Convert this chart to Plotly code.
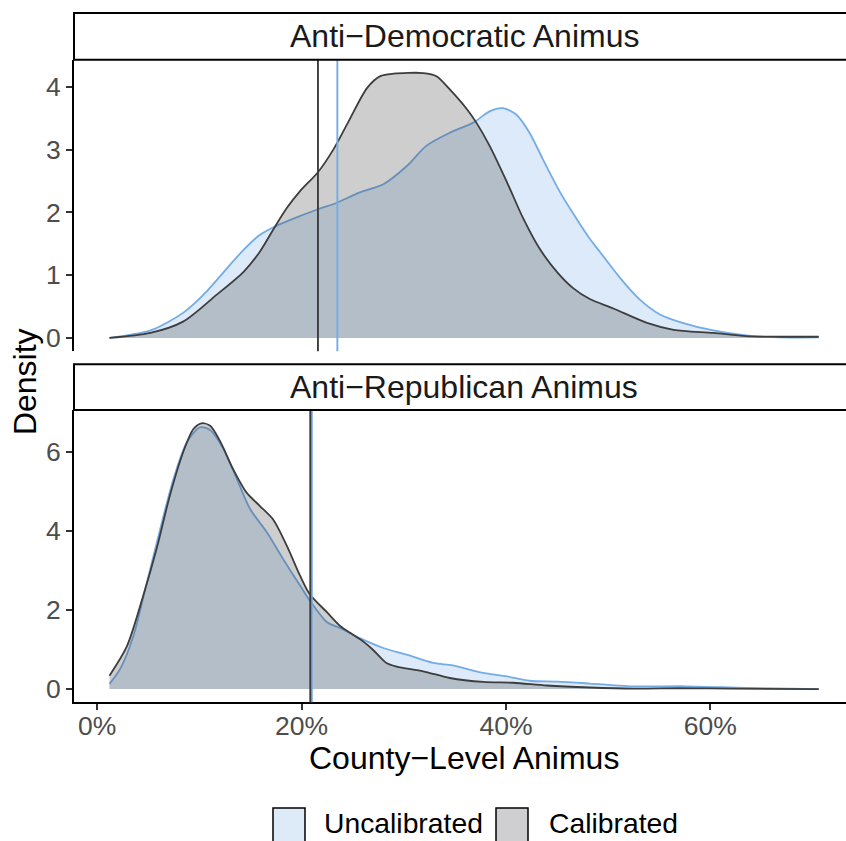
import plotly.graph_objects as go

# ---- density estimates of county-level animus (percent) ----
# Anti-Democratic animus
dem_uncal_x = [1.2, 5.2, 8.4, 10.7, 12.7, 14.3, 15.9, 17.2, 19.2, 21.6, 23.4, 25.7, 28.0,
               30.3, 32.2, 34.5, 36.8, 38.4, 39.7, 41.0, 42.3, 43.6, 45.3, 46.9, 48.2,
               49.2, 51.2, 53.1, 55.1, 57.1, 60.3, 63.5, 66.8, 70.6]
dem_uncal_y = [0.00, 0.12, 0.40, 0.74, 1.11, 1.40, 1.64, 1.76, 1.90, 2.05, 2.15, 2.32, 2.45,
               2.74, 3.06, 3.27, 3.43, 3.61, 3.66, 3.56, 3.27, 2.85, 2.32, 1.90, 1.58,
               1.37, 0.95, 0.61, 0.37, 0.25, 0.12, 0.04, 0.01, 0.01]

dem_cal_x = [1.2, 5.2, 8.4, 11.7, 14.3, 15.9, 17.2, 18.55, 19.85, 21.6, 23.1, 24.6, 26.4,
             27.7, 29.0, 31.9, 33.2, 34.5, 36.2, 37.1, 38.4, 40.1, 41.7, 43.3, 45.0,
             46.6, 48.2, 50.5, 53.8, 56.4, 60.3, 63.5, 66.8, 70.6]
dem_cal_y = [0.00, 0.08, 0.26, 0.69, 1.05, 1.37, 1.72, 2.07, 2.34, 2.64, 3.00, 3.45, 3.98,
             4.17, 4.21, 4.22, 4.17, 3.96, 3.64, 3.43, 3.06, 2.48, 1.90, 1.42, 1.05,
             0.79, 0.62, 0.47, 0.24, 0.13, 0.08, 0.03, 0.02, 0.02]

# Anti-Republican animus
rep_uncal_x = [1.2, 2.25, 3.55, 4.86, 6.16, 7.46, 8.77, 10.07, 11.05, 12.35, 13.66, 14.96,
               16.6, 18.2, 19.85, 20.8, 22.5, 23.8, 25.7, 28.0, 30.3, 32.9, 34.8, 37.5,
               40.1, 42.3, 45.0, 48.2, 52.1, 57.7, 63.5, 70.6]
rep_uncal_y = [0.13, 0.51, 1.35, 2.70, 4.05, 5.32, 6.25, 6.63, 6.56, 6.08, 5.32, 4.56,
               3.97, 3.29, 2.62, 2.24, 1.69, 1.54, 1.29, 1.04, 0.87, 0.66, 0.60, 0.42,
               0.32, 0.21, 0.19, 0.14, 0.07, 0.07, 0.03, 0.00]

rep_cal_x = [1.2, 2.9, 4.5, 5.8, 7.1, 8.4, 9.4, 10.2, 11.05, 12.0, 13.3, 14.6, 15.9, 17.2,
             18.55, 19.85, 20.8, 22.5, 23.8, 24.7, 26.0, 27.0, 28.3, 29.3, 31.9, 34.5,
             37.8, 40.7, 44.0, 48.2, 52.5, 57.0, 62.0, 70.6]
rep_cal_y = [0.34, 1.08, 2.36, 3.54, 4.89, 5.99, 6.58, 6.73, 6.67, 6.29, 5.57, 4.98, 4.64,
             4.30, 3.63, 2.87, 2.40, 1.94, 1.59, 1.43, 1.21, 0.99, 0.66, 0.57, 0.45, 0.28,
             0.18, 0.16, 0.09, 0.04, 0.01, 0.02, 0.01, 0.00]

# mean animus per measure (vertical reference lines)
dem_means = {"Uncalibrated": 23.5, "Calibrated": 21.6}
rep_means = {"Uncalibrated": 21.0, "Calibrated": 20.85}

panel_titles = ["Anti\u2212Democratic Animus", "Anti\u2212Republican Animus"]
x_ticks = [0, 20, 40, 60]
x_tick_labels = ["0%", "20%", "40%", "60%"]
dem_y_ticks = [0, 1, 2, 3, 4]
rep_y_ticks = [0, 2, 4, 6]
legend_labels = ["Uncalibrated", "Calibrated"]

# ---- styling ----
W, H = 846, 841
FONT = "Liberation Sans, Arial, Helvetica, sans-serif"
LINE = {"Uncalibrated": "#74ACE6", "Calibrated": "#3D3D3D"}
FILL = {"Uncalibrated": "rgba(116,172,230,0.25)", "Calibrated": "rgba(61,61,61,0.25)"}
KEY_FILL = {"Uncalibrated": "#DDEAF8", "Calibrated": "#CFCFD1"}


def fx(p):
    return p / W


def fy(p):
    return 1 - p / H


LEFT = 74
top_dom = [fy(352), fy(60)]
bot_dom = [fy(704), fy(411)]
x_range = [-2.27, 73.27]

fig = go.Figure()


def add_density(x, y, name, xa, ya):
    fig.add_trace(go.Scatter(
        x=x, y=y, name=name, mode="lines", fill="tozeroy",
        fillcolor=FILL[name],
        line=dict(color=LINE[name], width=1.8, shape="spline", smoothing=0.8),
        xaxis=xa, yaxis=ya, showlegend=False, hoverinfo="skip"))


add_density(dem_uncal_x, dem_uncal_y, "Uncalibrated", "x", "y")
add_density(dem_cal_x, dem_cal_y, "Calibrated", "x", "y")
add_density(rep_uncal_x, rep_uncal_y, "Uncalibrated", "x2", "y2")
add_density(rep_cal_x, rep_cal_y, "Calibrated", "x2", "y2")

shapes = []
for means, xr, yr in [(dem_means, "x", "y domain"), (rep_means, "x2", "y2 domain")]:
    for name in legend_labels:
        shapes.append(dict(type="line", xref=xr, yref=yr, x0=means[name], x1=means[name],
                           y0=0, y1=1, line=dict(color=LINE[name], width=1.9),
                           layer="above"))

# facet strips
for top, bottom in [(13, 60), (365, 411)]:
    shapes.append(dict(type="rect", xref="paper", yref="paper",
                       x0=fx(LEFT), x1=fx(W + 6), y0=fy(bottom), y1=fy(top),
                       line=dict(color="black", width=2), fillcolor="white", layer="above"))

# legend keys
for name, x0 in zip(legend_labels, [273, 496]):
    shapes.append(dict(type="rect", xref="paper", yref="paper",
                       x0=fx(x0), x1=fx(x0 + 32), y0=fy(856), y1=fy(810),
                       line=dict(color="black", width=1.5), fillcolor=KEY_FILL[name],
                       layer="above"))

annotations = []
for title, cy in zip(panel_titles, [36.5, 388]):
    annotations.append(dict(text=title, xref="paper", yref="paper", x=fx(464), y=fy(cy),
                            xanchor="center", yanchor="middle", showarrow=False,
                            font=dict(size=32, color="#1A1A1A", family=FONT)))
annotations.append(dict(text="County\u2212Level Animus", xref="paper", yref="paper",
                        x=fx(464), y=fy(760), xanchor="center", yanchor="middle",
                        showarrow=False, font=dict(size=32, color="black", family=FONT)))
annotations.append(dict(text="Density", xref="paper", yref="paper", x=fx(25), y=fy(383),
                        xanchor="center", yanchor="middle", textangle=-90,
                        showarrow=False, font=dict(size=32, color="black", family=FONT)))
for name, x0 in zip(legend_labels, [322, 547]):
    annotations.append(dict(text=name, xref="paper", yref="paper", x=fx(x0), y=fy(825),
                            xanchor="left", yanchor="middle", showarrow=False,
                            font=dict(size=28.3, color="black", family=FONT)))

tickfont = dict(size=26.5, color="#4D4D4D", family=FONT)
yaxis_common = dict(showline=True, linecolor="black", linewidth=2, ticks="outside",
                    ticklen=6, tickwidth=2, tickcolor="#333333", showgrid=False,
                    zeroline=False, tickfont=tickfont)

fig.update_layout(
    width=W, height=H, margin=dict(l=0, r=0, t=0, b=0),
    paper_bgcolor="white", plot_bgcolor="white",
    font=dict(family=FONT),
    xaxis=dict(domain=[fx(LEFT), 1], range=x_range, anchor="y", showline=False,
               showticklabels=False, ticks="", showgrid=False, zeroline=False),
    yaxis=dict(domain=top_dom, range=[-0.21, 4.43], anchor="x", tickvals=dem_y_ticks,
               **yaxis_common),
    xaxis2=dict(domain=[fx(LEFT), 1], range=x_range, anchor="y2", tickmode="array",
                tickvals=x_ticks, ticktext=x_tick_labels, showline=True,
                linecolor="black", linewidth=2, ticks="outside", ticklen=6, tickwidth=2,
                tickcolor="#333333", showgrid=False, zeroline=False, tickfont=tickfont,
                ticklabelstandoff=-7),
    yaxis2=dict(domain=bot_dom, range=[-0.336, 7.066], anchor="x2", tickvals=rep_y_ticks,
                **yaxis_common),
    shapes=shapes, annotations=annotations, showlegend=False,
)

fig.write_html("out.html")
